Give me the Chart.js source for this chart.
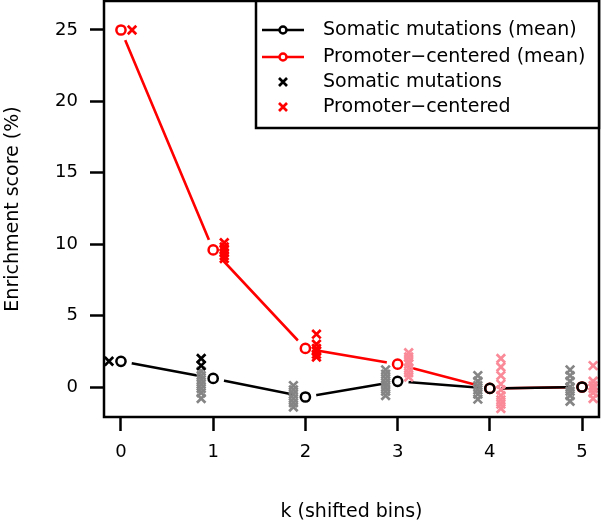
<!DOCTYPE html>
<html>
<head>
<meta charset="utf-8">
<script src="https://cdn.jsdelivr.net/npm/chart.js@4.4.1/dist/chart.umd.min.js"></script>
<style>
body { margin: 0; background: #fff; }
</style>
</head>
<body>
<canvas id="chart" width="601" height="523"></canvas>
<script>
let k_values = [0, 1, 2, 3, 4, 5];
let y_ticks = [0, 5, 10, 15, 20, 25];

let somatic_mean = [1.8, 0.6, -0.7, 0.4, -0.1, 0.0];
let promoter_mean = [25.0, 9.6, 2.7, 1.6, -0.1, 0.0];

// single runs for each k: strong colour / faded colour
let somatic_runs = [[1.8], [2.0, 1.5], [], [], [], []];
let somatic_runs_faded = [
    [],
    [1.1, 0.8, 0.5, 0.2, -0.1, -0.4, -0.8],
    [0.1, -0.2, -0.5, -0.8, -1.1, -1.4],
    [1.2, 0.9, 0.6, 0.3, 0.0, -0.3, -0.6],
    [0.8, 0.4, 0.1, -0.2, -0.5, -0.85],
    [1.2, 0.8, 0.4, 0.0, -0.3, -0.6, -1.0]
];
let promoter_runs = [
    [25.0],
    [10.1, 9.8, 9.6, 9.4, 9.2, 9.0],
    [3.7, 3.0, 2.7, 2.5, 2.3, 2.1],
    [], [], []
];
let promoter_runs_faded = [
    [], [], [],
    [2.4, 2.1, 1.8, 1.6, 1.3, 1.0, 0.7],
    [2.0, 1.4, 0.8, 0.2, -0.2, -0.6, -0.9, -1.2, -1.5],
    [1.5, 0.4, 0.1, -0.1, -0.4, -0.8]
];

let legend_labels = ['Somatic mutations (mean)', 'Promoter−centered (mean)', 'Somatic mutations', 'Promoter−centered'];
let x_title = 'k (shifted bins)';
let y_title = 'Enrichment score (%)';

Chart.defaults.font.family = "'DejaVu Sans', sans-serif";
Chart.defaults.color = '#000';

function mean_points(values) {
    return k_values.map((k, i) => ({x: k, y: values[i]}));
}

function run_points(runs, shift) {
    let pts = [];
    runs.forEach((list, i) => {
        list.forEach(v => pts.push({x: k_values[i] + shift, y: v}));
    });
    return pts;
}

function cross_set(data, color, order) {
    return {
        data: data, showLine: false, order: order,
        pointStyle: 'crossRot', pointRadius: 6, pointBorderWidth: 2.7,
        borderColor: color, backgroundColor: color
    };
}

function no_pad(s) {
    s.paddingTop = 0;
    s.paddingBottom = 0;
    s.paddingLeft = 0;
    s.paddingRight = 0;
}

let frame_legend = {
    id: 'frame_legend',
    afterDraw(chart) {
        let ctx = chart.ctx;
        let a = chart.chartArea;
        ctx.save();
        ctx.strokeStyle = '#000';
        ctx.lineWidth = 2.5;
        ctx.strokeRect(a.left, a.top, a.right - a.left, a.bottom - a.top);

        // legend box
        let bx = 256, by = a.top, bw = a.right - 256, bh = 127;
        ctx.fillStyle = '#fff';
        ctx.fillRect(bx, by, bw, bh);
        ctx.strokeRect(bx, by, bw, bh);

        let rows = [30, 57, 82, 107];
        let colors = ['#000', '#ff0000', '#000', '#ff0000'];
        ctx.font = "19px 'DejaVu Sans'";
        ctx.textBaseline = 'middle';
        ctx.textAlign = 'left';
        rows.forEach((y, i) => {
            ctx.strokeStyle = colors[i];
            if (i < 2) {
                ctx.lineWidth = 2.5;
                ctx.beginPath();
                ctx.moveTo(262, y);
                ctx.lineTo(304, y);
                ctx.stroke();
                ctx.fillStyle = '#fff';
                ctx.beginPath();
                ctx.arc(283, y, 3.5, 0, Math.PI * 2);
                ctx.fill();
                ctx.stroke();
            } else {
                ctx.lineWidth = 2.7;
                ctx.beginPath();
                ctx.moveTo(279, y - 4);
                ctx.lineTo(287, y + 4);
                ctx.moveTo(287, y - 4);
                ctx.lineTo(279, y + 4);
                ctx.stroke();
            }
            ctx.fillStyle = '#000';
            ctx.fillText(legend_labels[i], 323, y);
        });
        ctx.restore();
    }
};

let chart = new Chart(document.getElementById('chart'), {
    type: 'scatter',
    data: {
        datasets: [
            {data: mean_points(somatic_mean), order: 1, showLine: false,
             pointRadius: 4.6, pointBorderWidth: 2.5, borderColor: '#000', pointBackgroundColor: 'rgba(0,0,0,0)'},
            {data: mean_points(promoter_mean), order: 2, showLine: false,
             pointRadius: 4.6, pointBorderWidth: 2.5, borderColor: '#ff0000', pointBackgroundColor: 'rgba(0,0,0,0)'},
            cross_set(run_points(somatic_runs, -0.13), '#000', 3),
            cross_set(run_points(promoter_runs, 0.12), '#ff0000', 4),
            cross_set(run_points(somatic_runs_faded, -0.13), '#858585', 5),
            cross_set(run_points(promoter_runs_faded, 0.12), '#fa8a98', 6),
            // white halos so the lines stop short of the circles
            {data: mean_points(somatic_mean), order: 7, showLine: false,
             pointRadius: 11, pointBorderWidth: 0, backgroundColor: '#fff', borderColor: '#fff'},
            {data: mean_points(promoter_mean), order: 8, showLine: false,
             pointRadius: 11, pointBorderWidth: 0, backgroundColor: '#fff', borderColor: '#fff'},
            {data: mean_points(somatic_mean), order: 9, showLine: true, pointRadius: 0,
             borderColor: '#000', borderWidth: 2.6},
            {data: mean_points(promoter_mean), order: 10, showLine: true, pointRadius: 0,
             borderColor: '#ff0000', borderWidth: 2.6}
        ]
    },
    options: {
        responsive: false,
        animation: false,
        devicePixelRatio: 1,
        layout: {autoPadding: false, padding: {top: 1, right: 2, left: 0, bottom: 0}},
        plugins: {legend: {display: false}, tooltip: {enabled: false}},
        scales: {
            x: {
                type: 'linear', min: -0.184, max: 5.184,
                afterBuildTicks: s => { s.ticks = k_values.map(v => ({value: v})); },
                afterFit: s => { s.height = 106; no_pad(s); },
                ticks: {font: {size: 18}, padding: 11, color: '#000'},
                grid: {drawOnChartArea: false, drawTicks: true, tickLength: 14, tickWidth: 2.5, tickColor: '#000'},
                border: {display: false},
                title: {display: true, text: x_title, font: {size: 19}, padding: {top: 0, bottom: 0}, color: '#000'}
            },
            y: {
                type: 'linear', min: -2.1, max: 27.03,
                afterBuildTicks: s => { s.ticks = y_ticks.map(v => ({value: v})); },
                afterFit: s => { s.width = 104; no_pad(s); },
                ticks: {font: {size: 18}, padding: 12, color: '#000'},
                grid: {drawOnChartArea: false, drawTicks: true, tickLength: 14, tickWidth: 2.5, tickColor: '#000'},
                border: {display: false},
                title: {display: true, text: y_title, font: {size: 19}, padding: {top: 2, bottom: 0}, color: '#000'}
            }
        }
    },
    plugins: [frame_legend]
});
</script>
</body>
</html>
